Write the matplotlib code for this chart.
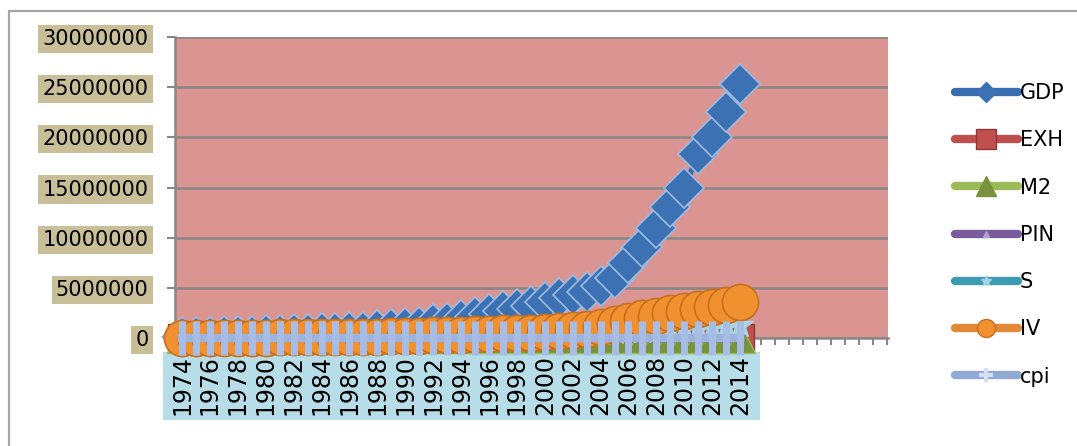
import matplotlib.pyplot as plt
from matplotlib.lines import Line2D
from matplotlib.patches import Rectangle
import numpy as np

years = list(range(1974, 2015))
n_slots = 51  # the category axis runs on past 2014 with empty slots

GDP = [88000, 113000, 140000, 157000, 184000, 214000, 258000, 308000, 354000, 404000,
       468000, 517000, 573000, 637000, 753000, 853000, 952000, 1137000, 1349000, 1515000,
       1774000, 2079000, 2376000, 2677000, 2938000, 3148000, 3600000, 4000000, 4300000, 4600000,
       5200000, 6000000, 7500000, 9100000, 11000000, 13100000, 15000000, 18300000, 20000000,
       22500000, 25300000]
EXH = [9.9, 9.9, 9.9, 9.9, 9.9, 9.9, 9.9, 9.9, 11.8, 13.1, 14.0, 15.9, 16.6, 17.4, 18.0,
       20.5, 21.7, 23.8, 25.1, 28.1, 30.6, 31.6, 36.1, 41.1, 45.0, 49.5, 53.6, 61.9, 59.7,
       57.8, 58.3, 59.9, 60.3, 60.8, 70.4, 81.7, 85.2, 86.3, 93.4, 101.6, 101.1]
M2 = [15.6, 9.2, 24.1, 22.5, 18.3, 19.4, 15.5, 10.3, 13.4, 17.9, 10.5, 12.2, 14.2, 13.3,
      9.0, 6.6, 17.1, 17.8, 24.5, 17.0, 17.7, 13.8, 13.8, 12.2, 14.5, 6.2, 12.1, 9.0, 15.4,
      18.0, 19.6, 19.3, 15.1, 19.3, 15.3, 12.5, 12.5, 15.9, 14.1, 15.9, 12.5]
PIN = [5.2, 5.4, 5.6, 5.9, 6.1, 6.4, 6.7, 7.0, 7.3, 7.6, 8.0, 8.3, 8.7, 9.1, 9.5, 9.9,
       10.3, 10.8, 11.3, 11.8, 12.3, 12.8, 13.4, 14.0, 14.6, 15.2, 15.9, 16.6, 17.3, 18.1,
       18.9, 19.7, 20.6, 21.5, 22.5, 23.5, 24.5, 25.6, 26.7, 27.9, 29.1]
S = [11000, 14000, 17000, 20000, 24000, 28000, 33000, 39000, 45000, 52000, 60000, 68000,
     78000, 90000, 100000, 115000, 130000, 150000, 170000, 190000, 210000, 240000, 260000,
     280000, 300000, 320000, 360000, 400000, 430000, 470000, 520000, 580000, 650000,
     720000, 800000, 880000, 960000, 1040000, 1120000, 1200000, 1300000]
IV = [15000, 20000, 25000, 30000, 35000, 40000, 45000, 55000, 65000, 75000, 85000, 95000,
      105000, 120000, 135000, 155000, 175000, 200000, 250000, 280000, 320000, 370000,
      420000, 460000, 480000, 500000, 600000, 700000, 750000, 850000, 1100000, 1400000,
      1700000, 1950000, 2200000, 2450000, 2650000, 2850000, 3050000, 3300000, 3600000]
cpi = [8.6, 10.7, 11.9, 13.1, 13.9, 15.1, 16.8, 18.7, 20.0, 21.3, 22.6, 23.9, 24.7, 25.9,
       28.2, 30.9, 33.8, 37.9, 41.5, 45.5, 51.0, 57.6, 63.8, 71.2, 76.1, 80.5, 83.0, 85.6,
       88.7, 91.4, 100.0, 109.3, 117.6, 126.7, 151.6, 181.5, 203.5, 232.4, 256.8, 276.8, 302.7]

x = np.arange(len(years))

fig = plt.figure(figsize=(10.77, 4.46), dpi=100)
fig.add_artist(Rectangle((9 / 1077, -0.1), 1.2, 1.1 - 11 / 446, transform=fig.transFigure,
                         fill=False, edgecolor='#A6A6A6', linewidth=1.6))
# light-blue band behind the year labels
fig.add_artist(Rectangle((163 / 1077, 1 - 420 / 446), (760 - 163) / 1077, 68 / 446,
                         transform=fig.transFigure, facecolor='#B7DEE8', edgecolor='none',
                         zorder=-1))

ax = fig.add_axes([175 / 1077, 1 - 338 / 446, 713 / 1077, 301 / 446])
ax.set_facecolor('#DA9593')

ax.plot(x, GDP, color='#3A6DAE', lw=4, marker='D', ms=20, mfc='#3C72B4', mec='#9DBBE0',
        mew=1.2, label='GDP', clip_on=False, zorder=3)
ax.plot(x, EXH, color='#C0504D', lw=4, marker='s', ms=20, mfc='#C0504D', mec='#8C3836',
        label='EXH', clip_on=False, zorder=3)
ax.plot(x, M2, color='#9BBB59', lw=4, marker='^', ms=22, mfc='#77933C', mec='#9BBB59',
        label='M2', clip_on=False, zorder=3)
ax.plot(x, PIN, color='#8064A2', lw=4, marker='^', ms=6, mfc='#B3A2C7',
        label='PIN', clip_on=False, zorder=3)
ax.plot(x, S, color='#4BACC6', lw=4, marker='*', ms=20, mfc='#A5D5E2', mec='#A5D5E2',
        label='S', clip_on=False, zorder=3)
ax.plot(x, IV, color='#F79646', lw=4, marker='o', ms=26, mfc='#F0902F', mec='#C8701E',
        mew=1.2, label='IV', clip_on=False, zorder=3)
# cpi: thick line with tall "+" markers forming the fence over the orange beads
ax.plot(x, cpi, color='#9DB3DD', lw=6, label='cpi', clip_on=False, zorder=4)
ax.plot(x, cpi, linestyle='none', marker='|', ms=25, mec='#A8BDE5', mew=5,
        clip_on=False, zorder=5)

ax.set_xlim(-0.5, n_slots - 0.4)
ax.set_ylim(0, 30000000)
ax.set_yticks(range(0, 30000001, 5000000))
ax.set_yticklabels([str(v) for v in range(0, 30000001, 5000000)], fontsize=15)
ax.yaxis.grid(True, color='#878787', linewidth=1.8)
ax.set_axisbelow(True)

ax.set_xticks(x[::2])
ax.set_xticklabels([str(y) for y in years[::2]], rotation=90, fontsize=17, va='top')
ax.set_xticks(np.arange(-0.5, n_slots, 1), minor=True)
ax.tick_params(axis='x', which='major', length=0, pad=12)
ax.tick_params(axis='x', which='minor', length=5, color='#878787', width=1.5)
ax.tick_params(axis='y', length=6, color='#878787', width=1.5, pad=13)

for t in ax.get_yticklabels():
    t.set_bbox(dict(boxstyle='square,pad=0.2', facecolor='#C8BE98', edgecolor='none'))

for side in ['top', 'right']:
    ax.spines[side].set_visible(False)
for side in ['left', 'bottom']:
    ax.spines[side].set_color('#878787')
    ax.spines[side].set_linewidth(1.8)

handles = [
    Line2D([], [], color='#3A6DAE', lw=6, solid_capstyle='round', marker='D', ms=10,
           mfc='#3C72B4', mec='#3C72B4'),
    Line2D([], [], color='#C0504D', lw=6, solid_capstyle='round', marker='s', ms=14,
           mfc='#C0504D', mec='#8C3836'),
    Line2D([], [], color='#9BBB59', lw=6, solid_capstyle='round', marker='^', ms=15,
           mfc='#77933C', mec='#77933C'),
    Line2D([], [], color='#7A5C9E', lw=6, solid_capstyle='round', marker='^', ms=4,
           mfc='#B3A2C7', mec='#B3A2C7'),
    Line2D([], [], color='#3E9BB3', lw=6, solid_capstyle='round', marker='*', ms=8,
           mfc='#A5D5E2', mec='#A5D5E2'),
    Line2D([], [], color='#E38836', lw=6, solid_capstyle='round', marker='o', ms=13,
           mfc='#F0902F', mec='#C8701E'),
    Line2D([], [], color='#91A9D5', lw=6, solid_capstyle='round', marker='+', ms=10,
           mec='#D6E0F2', mew=3),
]
fig.legend(handles, ['GDP', 'EXH', 'M2', 'PIN', 'S', 'IV', 'cpi'],
           loc='upper left', bbox_to_anchor=(955 / 1077, 1 - 83 / 446), frameon=False,
           fontsize=15, handlelength=3.0, handletextpad=0.1, labelspacing=1.31,
           borderpad=0, borderaxespad=0)

fig.savefig('out.png', dpi=100)
